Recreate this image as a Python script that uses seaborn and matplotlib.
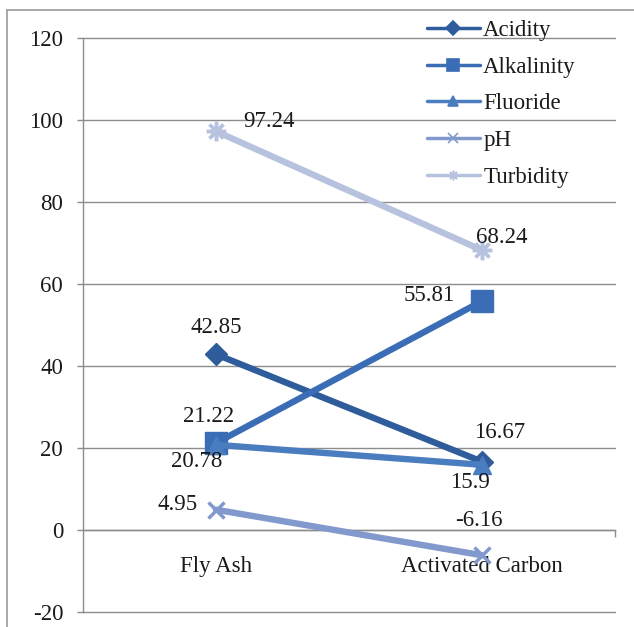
import matplotlib
matplotlib.use("Agg")
import matplotlib.pyplot as plt
from matplotlib.lines import Line2D
import seaborn as sns
import pandas as pd

# --- data -------------------------------------------------------------
sites = ["Fly Ash", "Activated Carbon"]
series_names = ["Acidity", "Alkalinity", "Fluoride", "pH", "Turbidity"]
acidity = [42.85, 16.67]
alkalinity = [21.22, 55.81]
fluoride = [20.78, 15.9]
ph = [4.95, -6.16]
turbidity = [97.24, 68.24]
y_ticks = [-20, 0, 20, 40, 60, 80, 100, 120]

values = {
    "Acidity": acidity,
    "Alkalinity": alkalinity,
    "Fluoride": fluoride,
    "pH": ph,
    "Turbidity": turbidity,
}
rows = [(name, site, v) for name in series_names for site, v in zip(sites, values[name])]
df = pd.DataFrame(rows, columns=["series", "site", "value"])

# --- styling per series -----------------------------------------------
colors = {
    "Acidity": "#2f5c9a",
    "Alkalinity": "#3a6db5",
    "Fluoride": "#4a7cc0",
    "pH": "#8199cc",
    "Turbidity": "#b7c3de",
}
asterisk = (8, 2, 0)
markers = {"Acidity": "D", "Alkalinity": "s", "Fluoride": "^", "pH": "x", "Turbidity": asterisk}
msizes = {"Acidity": 11, "Alkalinity": 16, "Fluoride": 13, "pH": 12, "Turbidity": 14}

# label offsets (points) for each series at each site
label_offsets = {
    "Acidity": [(0, 19), (13, 21)],
    "Alkalinity": [(-5, 19), (-38, 4)],
    "Fluoride": [(-14, -12), (-9, -13)],
    "pH": [(-28, 4), (-2, 25)],
    "Turbidity": [(38, 7), (14, 9)],
}

sns.set_theme(style="white")
plt.rcParams["font.family"] = ["Liberation Serif", "DejaVu Serif"]
text_color = "#1a1a1a"
grid_color = "#8c8c8c"
fs = 16.5

fig = plt.figure(figsize=(6.34, 6.27), dpi=100)
ax = fig.add_axes([83 / 634, 1 - 612 / 627, (615 - 83) / 634, (612 - 38) / 627])

for name in series_names:
    sub = df[df["series"] == name]
    sns.lineplot(
        data=sub, x="site", y="value", ax=ax, sort=False,
        color=colors[name], linewidth=4.6,
        marker=markers[name], markersize=msizes[name],
        markeredgecolor=colors[name], markeredgewidth=2.5 if name in ("pH", "Turbidity") else 1,
        legend=False, zorder=3,
    )
    for i, v in enumerate(values[name]):
        ax.annotate(f"{v:g}", (i, v), xytext=label_offsets[name][i], textcoords="offset points",
                    ha="center", va="center", fontsize=fs, color=text_color, zorder=5)

ax.set_xlim(-0.5, 1.5)
ax.set_ylim(-20, 120)
ax.set_yticks(y_ticks)
ax.set_yticklabels([str(t) for t in y_ticks])
ax.set_xticks(range(len(sites)))
ax.set_xticklabels(sites)
ax.set_xticks([1.5], minor=True)
ax.set_xlabel("")
ax.set_ylabel("")

ax.grid(axis="y", color=grid_color, linewidth=1.0)
ax.grid(axis="x", visible=False)
for gl in ax.get_ygridlines():
    gl.set_clip_on(False)
ax.set_axisbelow(True)
for s in ("top", "right"):
    ax.spines[s].set_visible(False)
ax.spines["left"].set_color(grid_color)
ax.spines["left"].set_linewidth(1.0)
ax.spines["bottom"].set_position(("data", 0))
ax.spines["bottom"].set_color(grid_color)
ax.spines["bottom"].set_linewidth(1.0)

ax.tick_params(axis="y", which="major", length=4.3, width=1, color=grid_color, direction="out",
               pad=10, labelsize=fs, labelcolor=text_color, left=True)
ax.tick_params(axis="x", which="major", length=0, pad=19, labelsize=fs, labelcolor=text_color, bottom=True)
ax.tick_params(axis="x", which="minor", length=5, width=1, color=grid_color, direction="out", bottom=True)

# legend overlapping the upper right of the plot
handles = [
    Line2D([], [], color=colors[n], linewidth=2.5, marker=markers[n],
           markersize=7 if n != "Alkalinity" else 9, markeredgewidth=1.2)
    for n in series_names
]
fig.legend(handles, series_names, loc="upper left", bbox_to_anchor=(427 / 634, 1 - 20 / 627),
           frameon=False, fontsize=fs, handlelength=2.3, handletextpad=0.15,
           labelspacing=0.68, borderpad=0, borderaxespad=0, labelcolor=text_color)

# outer chart frame
fig.add_artist(Line2D([7 / 634, 1.0], [1 - 10 / 627, 1 - 10 / 627], transform=fig.transFigure,
                      color="#9a9a9a", linewidth=1.2))
fig.add_artist(Line2D([7 / 634, 7 / 634], [0, 1 - 10 / 627], transform=fig.transFigure,
                      color="#9a9a9a", linewidth=1.2))

fig.savefig("out.png", dpi=100, facecolor="white")
